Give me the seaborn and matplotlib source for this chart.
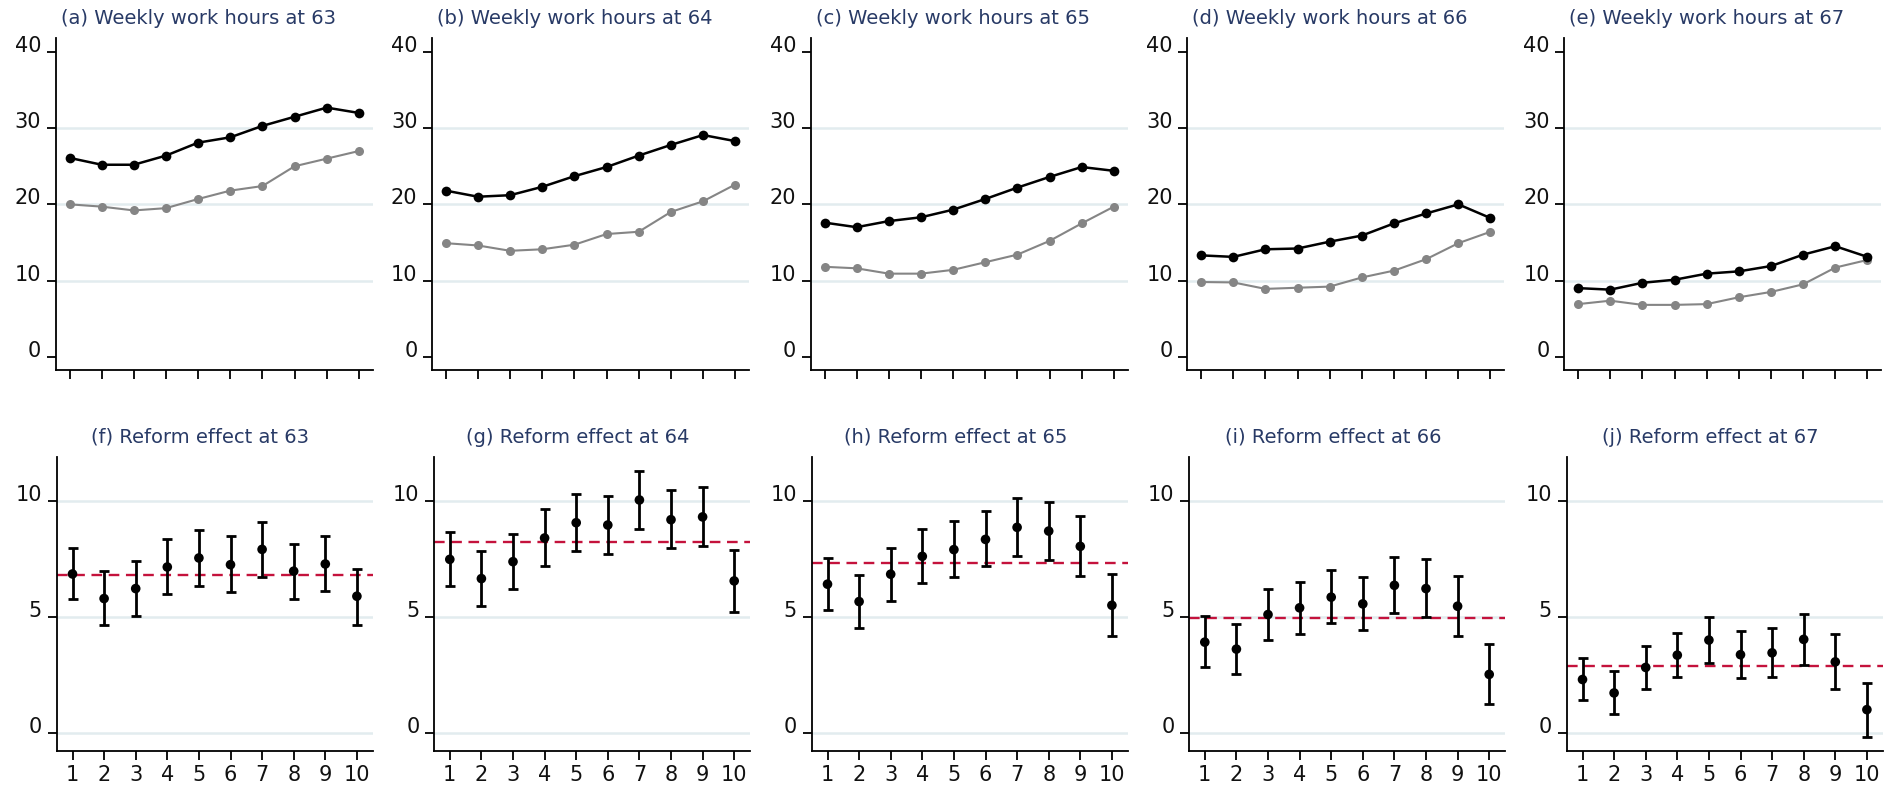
import numpy as np
import pandas as pd
import matplotlib
matplotlib.use("Agg")
import matplotlib.pyplot as plt
import seaborn as sns

# ---------------- data ----------------
bins = [1, 2, 3, 4, 5, 6, 7, 8, 9, 10]
ages = [63, 64, 65, 66, 67]
top_letters = ["a", "b", "c", "d", "e"]
bottom_letters = ["f", "g", "h", "i", "j"]

# black series (weekly work hours)
hours_line1 = [
    [26.1, 25.2, 25.2, 26.4, 28.1, 28.8, 30.3, 31.5, 32.7, 32.0],
    [21.8, 21.0, 21.2, 22.3, 23.7, 24.9, 26.4, 27.8, 29.1, 28.3],
    [17.6, 17.0, 17.8, 18.3, 19.3, 20.7, 22.2, 23.6, 24.9, 24.4],
    [13.3, 13.1, 14.1, 14.2, 15.1, 15.9, 17.5, 18.8, 20.0, 18.2],
    [9.0, 8.8, 9.7, 10.1, 10.9, 11.2, 11.9, 13.4, 14.5, 13.1],
]
# gray series (weekly work hours)
hours_line2 = [
    [20.0, 19.7, 19.2, 19.5, 20.7, 21.8, 22.4, 25.0, 26.0, 27.0],
    [14.9, 14.6, 13.9, 14.1, 14.7, 16.1, 16.4, 19.0, 20.4, 22.6],
    [11.8, 11.6, 10.9, 10.9, 11.4, 12.4, 13.4, 15.2, 17.5, 19.7],
    [9.8, 9.75, 8.9, 9.05, 9.2, 10.4, 11.3, 12.8, 14.9, 16.4],
    [6.9, 7.35, 6.8, 6.8, 6.9, 7.8, 8.5, 9.5, 11.7, 12.7],
]

# reform effects: estimates and confidence bounds
effect_est = [
    [6.87, 5.81, 6.24, 7.17, 7.56, 7.27, 7.93, 6.99, 7.30, 5.91],
    [7.50, 6.67, 7.40, 8.42, 9.08, 8.98, 10.06, 9.21, 9.33, 6.57],
    [6.43, 5.68, 6.86, 7.63, 7.92, 8.36, 8.88, 8.72, 8.06, 5.52],
    [3.93, 3.63, 5.12, 5.41, 5.87, 5.58, 6.38, 6.24, 5.48, 2.54],
    [2.32, 1.74, 2.84, 3.37, 4.02, 3.39, 3.47, 4.05, 3.08, 1.02],
]
effect_lo = [
    [5.80, 4.66, 5.06, 6.00, 6.37, 6.08, 6.76, 5.81, 6.15, 4.65],
    [6.36, 5.49, 6.23, 7.22, 7.86, 7.75, 8.82, 7.98, 8.08, 5.25],
    [5.31, 4.55, 5.72, 6.47, 6.76, 7.20, 7.65, 7.47, 6.77, 4.20],
    [2.87, 2.54, 4.03, 4.30, 4.76, 4.45, 5.19, 5.01, 4.20, 1.26],
    [1.43, 0.82, 1.92, 2.42, 3.04, 2.40, 2.42, 2.94, 1.92, -0.14],
]
effect_hi = [
    [7.99, 6.98, 7.45, 8.38, 8.78, 8.49, 9.10, 8.16, 8.49, 7.10],
    [8.67, 7.85, 8.59, 9.66, 10.33, 10.22, 11.31, 10.47, 10.60, 7.91],
    [7.55, 6.84, 8.01, 8.79, 9.14, 9.58, 10.13, 9.99, 9.35, 6.86],
    [5.05, 4.72, 6.23, 6.53, 7.03, 6.74, 7.59, 7.50, 6.77, 3.86],
    [3.24, 2.67, 3.77, 4.33, 5.01, 4.40, 4.52, 5.15, 4.29, 2.17],
]
effect_avg = [6.83, 8.26, 7.35, 4.96, 2.90]

top_yticks = [0, 10, 20, 30, 40]
top_grid = [10, 20, 30]
bottom_yticks = [0, 5, 10]
bottom_grid = [0, 5, 10]

# ---------------- style ----------------
sns.set_theme(style="white")
plt.rcParams["font.family"] = ["DejaVu Sans"]

TITLE_COLOR = "#283a66"
GRID_COLOR = "#e2ecef"
RED = "#c4123c"
GRAY = "#858585"

W, H = 1887.0, 786.0
fig = plt.figure(figsize=(W / 100, H / 100), dpi=100)

top_lefts = [55.7, 432.0, 810.7, 1187.3, 1564.3]
bot_lefts = [56.7, 434.0, 811.7, 1189.0, 1566.7]


def style_axes(ax, yticks, show_xlabels):
    for s in ["top", "right"]:
        ax.spines[s].set_visible(False)
    for s in ["left", "bottom"]:
        ax.spines[s].set_color("black")
        ax.spines[s].set_linewidth(1.3)
    ax.set_facecolor("white")
    ax.set_xticks(bins)
    ax.set_yticks(yticks)
    ax.set_yticklabels([str(v) for v in yticks])
    ax.tick_params(axis="both", which="major", direction="out", length=6.5, width=1.3,
                   color="black", labelsize=15, labelcolor="#111111",
                   bottom=True, left=True, top=False, right=False)
    ax.tick_params(axis="y", pad=4)
    ax.tick_params(axis="x", pad=3.5, labelbottom=show_xlabels)
    for t in ax.get_yticklabels():
        t.set_verticalalignment("baseline")
    ax.set_xlabel("")
    ax.set_ylabel("")
    ax.grid(False)


# ---------------- top row ----------------
for i, age in enumerate(ages):
    ax = fig.add_axes([top_lefts[i] / W, (H - 370.0) / H, 317.0 / W, (370.0 - 38.3) / H])
    for g in top_grid:
        ax.axhline(g, color=GRID_COLOR, lw=1.8, zorder=0.5)
    df = pd.DataFrame({"bin": bins, "l1": hours_line1[i], "l2": hours_line2[i]})
    sns.lineplot(data=df, x="bin", y="l2", ax=ax, color=GRAY, linewidth=1.5,
                 marker="o", markersize=6.5, markeredgewidth=0, zorder=3)
    sns.lineplot(data=df, x="bin", y="l1", ax=ax, color="black", linewidth=1.8,
                 marker="o", markersize=7.0, markeredgewidth=0, zorder=4)
    ax.set_xlim(0.57, 10.43)
    ax.set_ylim(-1.75, 41.8)
    style_axes(ax, top_yticks, False)
    ax.annotate(f"({top_letters[i]}) Weekly work hours at {age}", xy=(0.45, 1.0),
                xycoords="axes fraction", xytext=(0, 14.5), textcoords="offset points",
                ha="center", va="center", fontsize=14, color=TITLE_COLOR)

# ---------------- bottom row ----------------
for i, age in enumerate(ages):
    ax = fig.add_axes([bot_lefts[i] / W, (H - 750.7) / H, 316.0 / W, (750.7 - 457.3) / H])
    for g in bottom_grid:
        ax.axhline(g, color=GRID_COLOR, lw=1.8, zorder=0.5)
    est = np.array(effect_est[i])
    lo = np.array(effect_lo[i])
    hi = np.array(effect_hi[i])
    ax.axhline(effect_avg[i], color=RED, lw=1.7, dashes=(4.5, 2.8), zorder=2)
    ax.errorbar(bins, est, yerr=[est - lo, hi - est], fmt="none", ecolor="black",
                elinewidth=2.0, capsize=3.6, capthick=2.0, zorder=3)
    df = pd.DataFrame({"bin": bins, "est": est})
    sns.scatterplot(data=df, x="bin", y="est", ax=ax, color="black", s=48,
                    edgecolor="none", zorder=4)
    ax.set_xlim(0.5, 10.5)
    ax.set_ylim(-0.75, 11.9)
    style_axes(ax, bottom_yticks, True)
    ax.annotate(f"({bottom_letters[i]}) Reform effect at {age}", xy=(0.455, 1.0),
                xycoords="axes fraction", xytext=(0, 14.5), textcoords="offset points",
                ha="center", va="center", fontsize=14, color=TITLE_COLOR)

fig.savefig("out.png", dpi=100, facecolor="white")
